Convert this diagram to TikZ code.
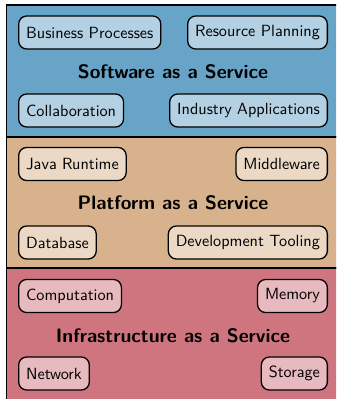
\documentclass[tikz,border=0pt]{standalone}
\usepackage{tikz}

\definecolor{saascol}{RGB}{103,164,199}
\definecolor{paascol}{RGB}{216,178,140}
\definecolor{iaascol}{RGB}{207,117,128}

\begin{document}
\begin{tikzpicture}[x=0.6173pt, y=-0.6173pt,
    layer/.style={draw, very thick},
    item/.style={rectangle, draw, thick, rounded corners=5pt, font=\sffamily,
      inner xsep=4.6pt, minimum height=20.4pt},
    title/.style={font=\sffamily\bfseries\large}]
      \useasboundingbox (0,0) rectangle (336,399);
      \clip (0,0) rectangle (336,399);

      % Software as a Service
      \draw [layer, fill=saascol] (6.5,5) rectangle (339.5,137);
      \node[item, fill=saascol!50!white, anchor=west] (bp) at (18,32.5) {Business Processes};
      \node[item, fill=saascol!50!white, anchor=east] (rp) at (328,32.5) {Resource Planning};
      \node[title] (saas) at (173,72) {Software as a Service};
      \node[item, fill=saascol!50!white, anchor=west] (collab) at (18,110.5) {Collaboration};
      \node[item, fill=saascol!50!white, anchor=east] (indapp) at (328,110.5) {Industry Applications};

      % Platform as a Service
      \draw [layer, fill=paascol] (6.5,137) rectangle (339.5,268);
      \node[item, fill=paascol!50!white, anchor=west] (java) at (18,164) {Java Runtime};
      \node[item, fill=paascol!50!white, anchor=east] (mw) at (328,164) {Middleware};
      \node[title] (paas) at (173,203) {Platform as a Service};
      \node[item, fill=paascol!50!white, anchor=west] (db) at (18,242.5) {Database};
      \node[item, fill=paascol!50!white, anchor=east] (devtool) at (328,242.5) {Development Tooling};

      % Infrastructure as a Service
      \draw [layer, fill=iaascol] (6.5,268) rectangle (339.5,400.5);
      \node[item, fill=iaascol!50!white, anchor=west] (comp) at (18,296) {Computation};
      \node[item, fill=iaascol!50!white, anchor=east] (mem) at (328,296) {Memory};
      \node[title] (iaas) at (173,335.5) {Infrastructure as a Service};
      \node[item, fill=iaascol!50!white, anchor=west] (net) at (18,373.5) {Network};
      \node[item, fill=iaascol!50!white, anchor=east] (stor) at (328,373.5) {Storage};
    \end{tikzpicture}
\end{document}
